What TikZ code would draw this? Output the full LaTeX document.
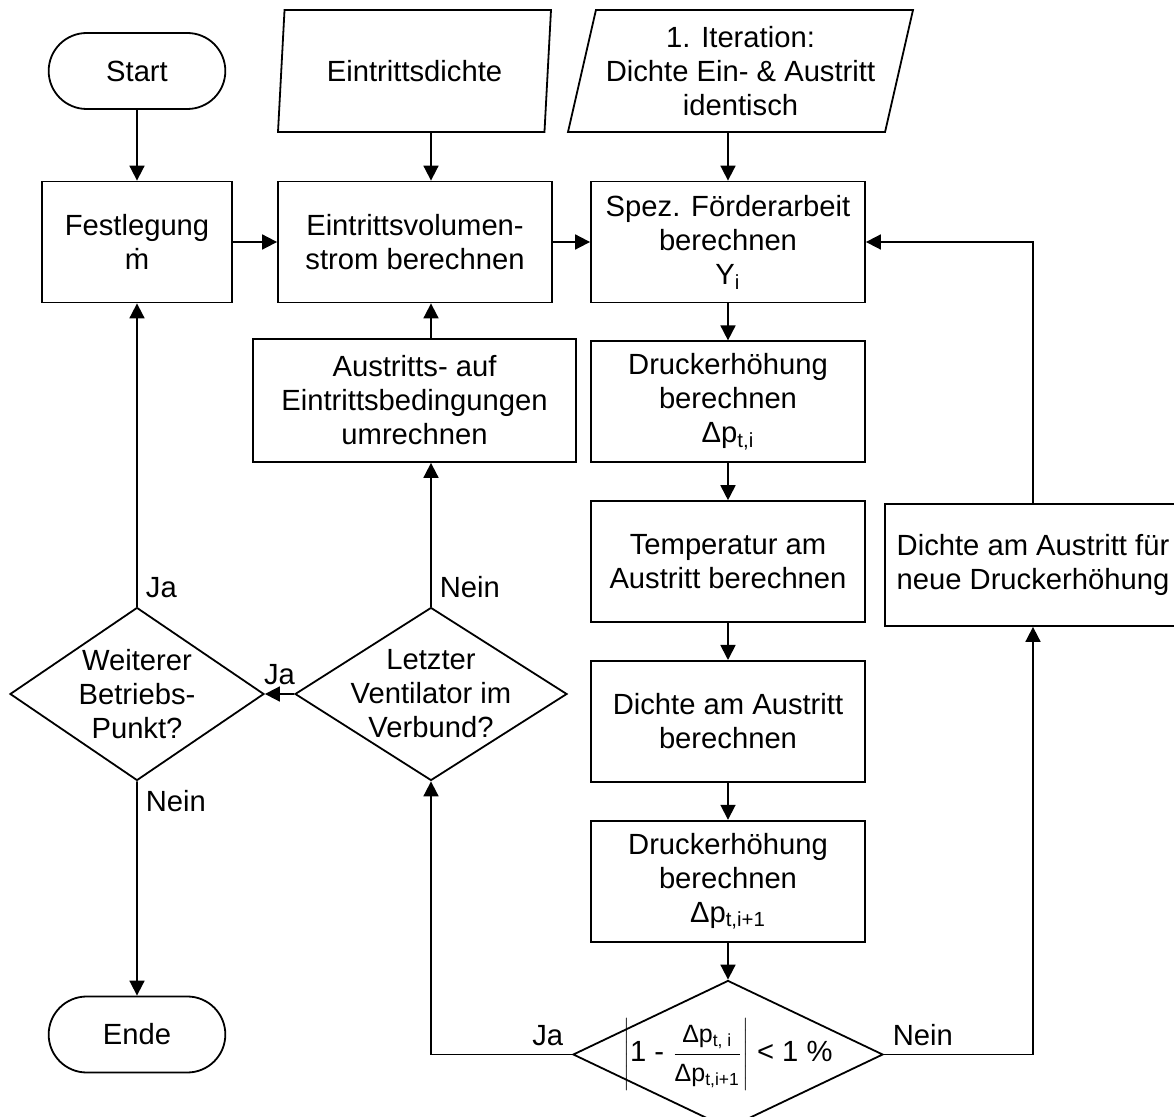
\documentclass[tikz,border=0pt]{standalone}
\usepackage{fontspec}
\setmainfont{Liberation Sans}
\usetikzlibrary{shapes.geometric, shapes.misc, arrows.meta, positioning}

\begin{document}
\begin{tikzpicture}[
			x=0.5pt, y=-0.5pt,
			node distance=18.5pt,
			every node/.style={font=\fontsize{14.6}{17}\selectfont},
			%% Node styles
			terminal/.style={rounded rectangle, draw=black, line width=0.9pt,
				minimum width=95pt, minimum height=38pt, align=center},
			process/.style={rectangle, draw=black, line width=0.9pt,
				minimum width=137pt, minimum height=60.5pt,
				inner sep=2pt, align=center},
			io/.style={trapezium, draw=black, line width=0.9pt,
				trapezium stretches body, minimum height=61pt,
				inner sep=2pt, align=center},
			decision/.style={diamond, draw=black, line width=0.9pt,
				inner xsep=-30pt, inner ysep=-20pt, align=center},
			%% Arrow styles
			arr/.style={-{Triangle[length=7.5pt,width=7.5pt]}, line width=0.9pt},
			%% Edge label style
			lbl/.style={inner sep=4pt},
			]
			
			%% ── Left column ──────────────────────────────────────────────
			\useasboundingbox (0,0) rectangle (1174,1117);
			
			\node[terminal] (start) at (137,71) {Start};
			
			\node[process, minimum width=95pt] (fest) at (137,242)
			{Festlegung\\ṁ};
			
			\node[decision, minimum width=127pt, minimum height=86.5pt] (weiter) at (137,694)
			{Weiterer\\Betriebs-\\Punkt?};
			
			\node[terminal] (ende) at (137,1034.5) {Ende};
			
			%% ── Middle column ────────────────────────────────────────────
			\node[io, trapezium left angle=77.5, trapezium right angle=102.5,
				minimum width=136.5pt] (eindichte) at (414.5,71)
			{Eintrittsdichte};
			
			\node[process] (volstrom) at (415,242)
			{Eintrittsvolumen-\\strom berechnen};
			
			\node[process, minimum width=161.5pt, minimum height=61.5pt] (umrech) at (414.5,400.5)
			{Austritts- auf\\Eintrittsbedingungen\\umrechnen};
			
			\node[decision, minimum width=136pt, minimum height=86.5pt] (letzter) at (431,694)
			{Letzter\\Ventilator im\\Verbund?};
			
			%% ── Right column (top to bottom) ─────────────────────────────
			\node[io, trapezium left angle=74, trapezium right angle=106,
				minimum width=172.5pt] (iter) at (740.5,71)
			{1. Iteration:\\Dichte Ein- \& Austritt\\identisch};
			
			\node[process] (spez) at (728,242)
			{Spez. Förderarbeit\\berechnen\\Y\textsubscript{i}};
			
			\node[process, below=of spez]      (druck1)
			{Druckerhöhung\\berechnen\\Δp\textsubscript{t,i}};
			
			\node[process, below=of druck1]    (temp)
			{Temperatur am\\Austritt berechnen};
			
			\node[process, below=of temp]      (dichteaus)
			{Dichte am Austritt\\berechnen};
			
			\node[process, below=of dichteaus] (druck2)
			{Druckerhöhung\\berechnen\\Δp\textsubscript{t,i+1}};
			
			\node[decision, below=of druck2, minimum width=155pt, minimum height=74pt] (konv)
			{$\left|\mbox{1 - }\displaystyle\frac{\mbox{\fontsize{12.5}{13}\selectfont Δp\textsubscript{t, i}}}
				{\mbox{\fontsize{12.5}{13}\selectfont Δp\textsubscript{t,i+1}}}\right|$ < 1 \%};
			
			%% Density box on the far right (cut by the page edge)
			\node[process, minimum width=148pt, minimum height=61pt] (neudichte) at (1033,565)
			{Dichte am Austritt für\\neue Druckerhöhung};
			
			%% ── Main arrows ──────────────────────────────────────────────
			\draw[arr] (start)    -- (fest);
			\draw[arr] (fest)     -- (volstrom);
			\draw[arr] (volstrom) -- (spez);
			\draw[arr] (eindichte.south -| letzter) -- (volstrom.north -| letzter);
			\draw[arr] (iter.south -| spez) -- (spez);
			\draw[arr] (spez)      -- (druck1);
			\draw[arr] (druck1)    -- (temp);
			\draw[arr] (temp)      -- (dichteaus);
			\draw[arr] (dichteaus) -- (druck2);
			\draw[arr] (druck2)    -- (konv);
			
			%% ── Decisions ────────────────────────────────────────────────
			\draw[arr] (konv.west) -| node[lbl, pos=0, above left]{Ja} (letzter.south);
			\draw[arr] (konv.east) -| node[lbl, pos=0, above right]{Nein} (neudichte.south);
			\draw[arr] (neudichte.north) |- (spez.east);
			
			\draw[arr] (letzter.north) -- node[lbl, pos=0, above right]{Nein}
			(letzter.north |- umrech.south);
			\draw[arr] (umrech.north -| letzter) -- (volstrom.south -| letzter);
			\draw[arr] (letzter) -- node[lbl, above]{Ja} (weiter);
			
			\draw[arr] (weiter) -- node[lbl, pos=0, above right]{Ja} (fest);
			\draw[arr] (weiter) -- node[lbl, pos=0, below right]{Nein} (ende);
			
		\end{tikzpicture}
\end{document}
